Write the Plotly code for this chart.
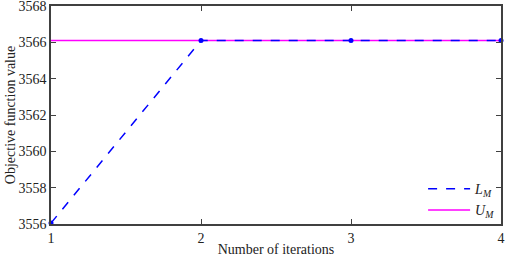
import plotly.graph_objects as go

iterations = [1, 2, 3, 4]
lm_values = [3556.05, 3566.1, 3566.1, 3566.1]
um_values = [3566.1, 3566.1, 3566.1, 3566.1]
y_ticks = [3556, 3558, 3560, 3562, 3564, 3566, 3568]

FONT = dict(family="Liberation Serif", size=14, color="#222")

fig = go.Figure()
fig.add_trace(go.Scatter(x=iterations, y=um_values, mode="lines",
                         name="<i>U<sub>M</sub></i>", legendrank=2,
                         line=dict(color="#ff00ff", width=1.5)))
fig.add_trace(go.Scatter(x=iterations, y=lm_values, mode="lines",
                         name="<i>L<sub>M</sub></i>", legendrank=1,
                         line=dict(color="#0000ff", width=1.5, dash="dash")))
fig.add_trace(go.Scatter(x=iterations, y=lm_values, mode="markers", showlegend=False,
                         marker=dict(size=5, color="#0000ff"), cliponaxis=False))

axis_common = dict(showline=True, linecolor="#404040", linewidth=1.5, mirror="ticks",
                   ticks="inside", ticklen=5, tickcolor="#404040", showgrid=False,
                   zeroline=False, tickfont=FONT, automargin=False,
                   ticklabeloverflow="allow")
fig.update_xaxes(range=[1, 4], tickvals=iterations,
                 title=dict(text="Number of iterations", font=FONT, standoff=0),
                 **axis_common)
fig.update_yaxes(range=[3556, 3568], tickvals=y_ticks,
                 title=dict(text="Objective function value", font=FONT, standoff=0),
                 **axis_common)
fig.update_layout(width=505, height=259, margin=dict(l=51, r=4, t=6, b=35),
                  plot_bgcolor="white", paper_bgcolor="white",
                  legend=dict(x=0.998, y=-0.01, xanchor="right", yanchor="bottom",
                              bgcolor="rgba(0,0,0,0)", font=FONT,
                              tracegroupgap=0, itemwidth=42))
fig.write_html("out.html", config={"displayModeBar": False},
               post_script="document.body.style.margin='0';")
